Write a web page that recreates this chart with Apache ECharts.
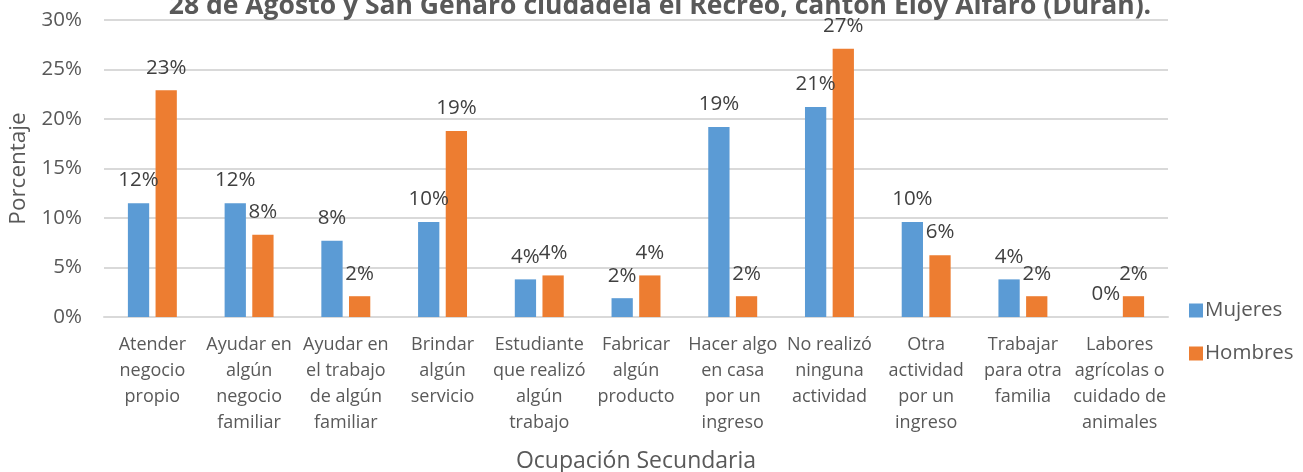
<!DOCTYPE html>
<html>
<head>
<meta charset="utf-8">
<script src="https://cdn.jsdelivr.net/npm/echarts@6/dist/echarts.min.js"></script>
<style>
  html, body { margin: 0; padding: 0; background: #fff; }
  #chart { width: 1303px; height: 472px; }
</style>
</head>
<body>
<div id="chart"></div>
<script>
// categorías (eje X) y porcentajes por sexo
const categorias = [
    "Atender\nnegocio\npropio",
    "Ayudar en\nalgún\nnegocio\nfamiliar",
    "Ayudar en\nel trabajo\nde algún\nfamiliar",
    "Brindar\nalgún\nservicio",
    "Estudiante\nque realizó\nalgún\ntrabajo",
    "Fabricar\nalgún\nproducto",
    "Hacer algo\nen casa\npor un\ningreso",
    "No realizó\nninguna\nactividad",
    "Otra\nactividad\npor un\ningreso",
    "Trabajar\npara otra\nfamilia",
    "Labores\nagrícolas o\ncuidado de\nanimales"
];
const mujeres = [11.5, 11.5, 7.7, 9.6, 3.8, 1.9, 19.2, 21.2, 9.6, 3.8, 0];
const hombres = [22.9, 8.3, 2.1, 18.8, 4.2, 4.2, 2.1, 27.1, 6.25, 2.1, 2.1];
const titulo = "28 de Agosto y San Genaro ciudadela el Recreo, cantón Eloy Alfaro (Durán).";

const fuente = "'Open Sans', sans-serif";
const chart = echarts.init(document.getElementById("chart"));

const etiqueta = {
    show: true,
    position: "top",
    distance: 12,
    fontFamily: fuente,
    fontSize: 20.5,
    color: "#404040",
    formatter: function (p) {
        return Math.round(p.value) + "%";
    }
};

chart.setOption({
    animation: false,
    textStyle: { fontFamily: fuente },
    title: {
        text: titulo,
        left: 655,
        textAlign: "center",
        top: -12,
        textStyle: {
            fontFamily: fuente,
            fontSize: 26.5,
            fontWeight: "bold",
            color: "#595959"
        }
    },
    grid: {
        left: 104,
        right: 135,
        top: 20,
        bottom: 155,
        outerBoundsMode: "none"
    },
    legend: {
        orient: "vertical",
        left: 1184,
        top: 295,
        itemWidth: 14,
        itemHeight: 14,
        itemGap: 22,
        icon: "rect",
        data: ["Mujeres", "Hombres"],
        textStyle: {
            fontFamily: fuente,
            fontSize: 20.5,
            color: "#595959",
            padding: [0, 0, 0, -3]
        }
    },
    xAxis: {
        type: "category",
        data: categorias,
        name: "Ocupación Secundaria",
        nameLocation: "middle",
        nameGap: 133,
        nameTextStyle: {
            fontFamily: fuente,
            fontSize: 23,
            color: "#595959"
        },
        axisLine: { lineStyle: { color: "#d9d9d9", width: 2 } },
        axisTick: { show: false },
        axisLabel: {
            interval: 0, //mostrar todas
            margin: 15,
            fontFamily: fuente,
            fontSize: 18,
            lineHeight: 26,
            color: "#595959"
        }
    },
    yAxis: {
        type: "value",
        min: 0,
        max: 30,
        interval: 5,
        name: "Porcentaje",
        nameLocation: "middle",
        nameGap: 74,
        nameTextStyle: {
            fontFamily: fuente,
            fontSize: 22.5,
            color: "#595959"
        },
        axisLine: { show: false },
        axisTick: { show: false },
        axisLabel: {
            margin: 22,
            fontFamily: fuente,
            fontSize: 20.5,
            color: "#595959",
            formatter: "{value}%"
        },
        splitLine: { lineStyle: { color: "#d9d9d9", width: 2 } }
    },
    series: [
        {
            name: "Mujeres",
            type: "bar",
            data: mujeres,
            barWidth: "22%",
            barGap: "30%",
            itemStyle: { color: "#5b9bd5" },
            label: etiqueta
        },
        {
            name: "Hombres",
            type: "bar",
            data: hombres,
            barWidth: "22%",
            itemStyle: { color: "#ed7d31" },
            label: etiqueta
        }
    ]
});
</script>
</body>
</html>
